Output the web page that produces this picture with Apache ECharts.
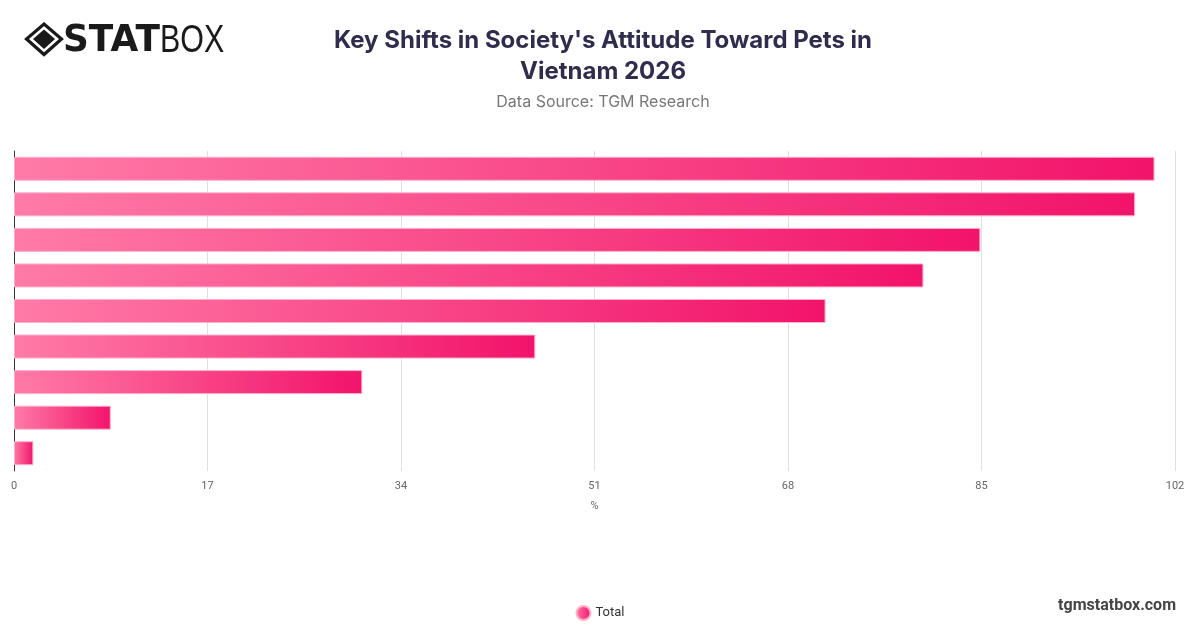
<!DOCTYPE html>
<html>
<head>
<meta charset="utf-8">
<script src="https://cdn.jsdelivr.net/npm/echarts@6/dist/echarts.min.js"></script>
<style>
html,body{margin:0;padding:0;background:#fff;}
#chart{width:1200px;height:628px;}
</style>
</head>
<body>
<div id="chart"></div>
<script>
const categories = [
  "Pets seen as family members",
  "Greater spending on pet care",
  "Rising awareness of animal welfare",
  "More pet-friendly public spaces",
  "Growth of pet adoption",
  "Acceptance of pets in workplaces",
  "Decline in pet consumption",
  "Stricter pet regulations",
  "Other"
];
const totalValues = [100.2, 98.5, 84.9, 79.9, 71.3, 45.8, 30.6, 8.5, 1.7];
const xTicks = [0, 17, 34, 51, 68, 85, 102];

const chart = echarts.init(document.getElementById('chart'));
const barGradient = new echarts.graphic.LinearGradient(0, 0, 1, 0, [
  { offset: 0, color: '#ff7ba7' },
  { offset: 1, color: '#f2136a' }
]);
chart.setOption({
  backgroundColor: '#fff',
  animation: false,
  title: [{
    text: "Key Shifts in Society's Attitude Toward Pets in\nVietnam 2026",
    left: 598, top: 20, textAlign: 'center',
    textStyle: { fontFamily: 'Inter', fontSize: 24, fontWeight: 'bold', color: '#2f2d4b', lineHeight: 31 },
    subtext: 'Data Source: TGM Research',
    subtextStyle: { fontFamily: 'Inter', fontSize: 16, color: '#777', lineHeight: 20 },
    itemGap: 5
  }],
  legend: {
    data: ['Total'], bottom: 2, left: 'center',
    icon: 'circle', itemWidth: 14, itemHeight: 14,
    textStyle: { fontFamily: 'Roboto', fontSize: 13, color: '#333' }
  },
  grid: { left: 14, right: 25, top: 151, bottom: 157, containLabel: false },
  xAxis: {
    type: 'value', min: xTicks[0], max: xTicks[xTicks.length - 1], interval: 17,
    name: '%', nameLocation: 'middle', nameGap: 30,
    nameTextStyle: { fontFamily: 'Roboto', fontSize: 11, color: '#666' },
    axisLine: { show: false }, axisTick: { show: false },
    axisLabel: { fontFamily: 'Roboto', fontSize: 11, color: '#666', margin: 10 },
    splitLine: { show: true, lineStyle: { color: '#e0e0e0', width: 1 } }
  },
  yAxis: {
    type: 'category', data: categories, inverse: true,
    axisLine: { show: true, lineStyle: { color: '#333', width: 1 } },
    axisTick: { show: false }, axisLabel: { show: false }
  },
  series: [{
    name: 'Total', type: 'bar', data: totalValues, barWidth: 24,
    itemStyle: { color: barGradient, borderColor: '#ffb0cb', borderWidth: 1 }
  }],
  graphic: [
    { type: 'polygon', shape: { points: [[44, 24], [61.5, 39], [44, 54.5], [26.5, 39]] },
      style: { fill: 'none', stroke: '#1a1a1a', lineWidth: 3.2 } },
    { type: 'polygon', shape: { points: [[44, 29.5], [55, 39], [44, 49], [33, 39]] },
      style: { fill: '#1a1a1a' } },
    { type: 'text', left: 63, top: 23, style: { text: 'STAT', font: '900 37px "DejaVu Sans"', fill: '#1a1a1a' }, scaleX: 0.97 },
    { type: 'text', left: 160, top: 23, style: { text: 'BOX', font: '300 38px "Liberation Sans"', fill: '#1a1a1a' }, scaleX: 0.8 },
    { type: 'text', right: 24, top: 598, style: { text: 'tgmstatbox.com', font: 'bold 16px Roboto', fill: '#444' } }
  ]
});
</script>
</body>
</html>
